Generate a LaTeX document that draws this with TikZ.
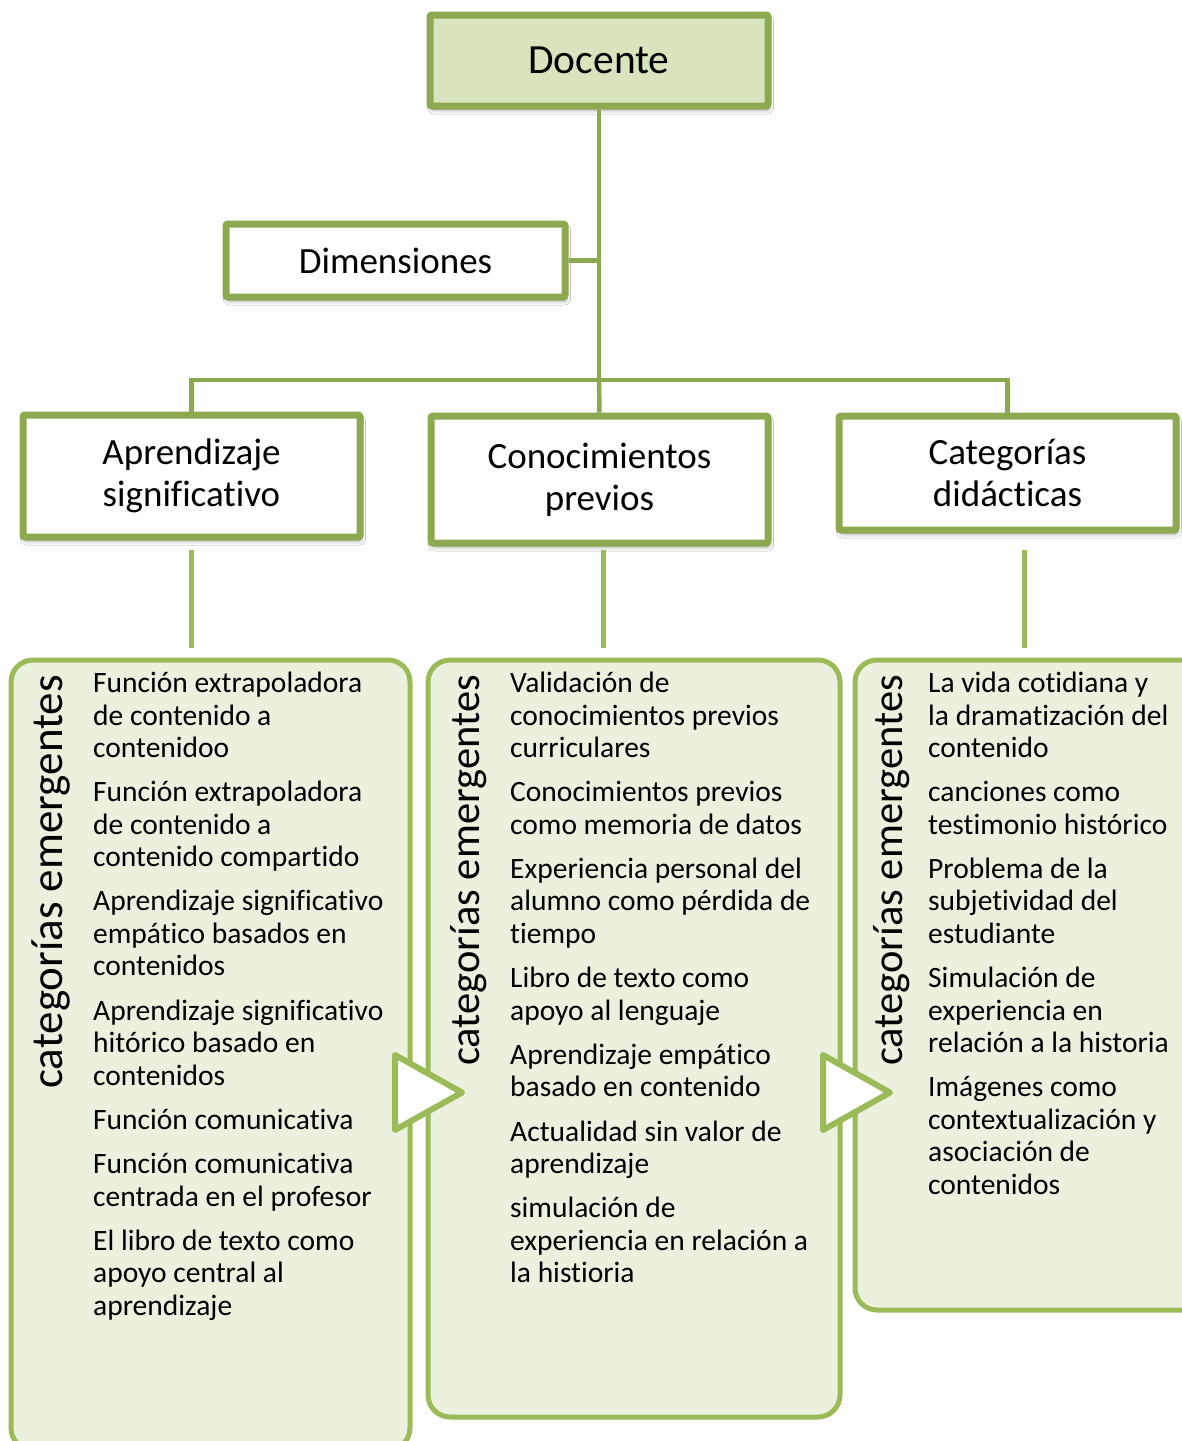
\documentclass[tikz,border=0pt]{standalone}
\usepackage{fontspec}
\setmainfont{Carlito}[Ligatures={NoCommon,NoContextual}]
\usetikzlibrary{shadows.blur}
\definecolor{boxgreen}{HTML}{8CA950}
\definecolor{docfill}{HTML}{D7E4BD}
\definecolor{panfill}{HTML}{EBF1DE}
\definecolor{pangreen}{HTML}{9BBB59}
\newcommand{\itemlines}[1]{\begin{tabular}[t]{@{}l@{}}#1\end{tabular}}
\begin{document}
\begin{tikzpicture}[x=1pt,y=-1pt,
  topbox/.style={draw=boxgreen, fill=white, line width=7pt, rounded corners=2pt, inner sep=0pt,
    align=center, blur shadow={shadow xshift=1.5pt, shadow yshift=-4pt, shadow opacity=35, shadow blur radius=4pt}},
  treeline/.style={draw=boxgreen, line width=4.5pt},
  lightline/.style={draw=pangreen, line width=5pt},
  panel/.style={draw=pangreen, fill=panfill, line width=5pt, rounded corners=22pt, inner sep=0pt},
  tri/.style={draw=pangreen, fill=white, line width=6pt, line join=round},
  itm/.style={anchor=base west, inner sep=0pt, font=\fontsize{29.5}{32.5}\selectfont},
  vlab/.style={rotate=90, anchor=base east, inner sep=0pt}]
\useasboundingbox (0,0) rectangle (1182,1441);
\clip (0,0) rectangle (1182,1441);
\fill[white] (0,0) rectangle (1182,1441);

% junction of the tree
\coordinate (jn) at (599,380);

% boxes
\node[topbox, fill=docfill, minimum width=338pt, minimum height=91pt, font=\fontsize{41.5}{48}\selectfont] (doc) at (599,60.5) {Docente};
\node[topbox, minimum width=339pt, minimum height=73pt, font=\fontsize{37}{42}\selectfont] (dim) at (395.5,260.5) {Dimensiones};
\node[topbox, minimum width=337pt, minimum height=122pt, font=\fontsize{37}{41.5}\selectfont] (apr) at (191.5,476) {Aprendizaje\\significativo};
\node[topbox, minimum width=337pt, minimum height=127pt, font=\fontsize{37}{41.5}\selectfont] (con) at (599.5,479.5) {Conocimientos\\previos};
\node[topbox, minimum width=337pt, minimum height=114pt, font=\fontsize{37}{41.5}\selectfont] (cat) at (1007.5,473) {Categorías\\didácticas};

\draw[treeline] (doc.south) -- (jn);
\draw[treeline] (dim.east) -- (dim.east -| jn);
\draw[treeline] (apr.north) |- (jn);
\draw[treeline] (con.north) -- (jn);
\draw[treeline] (cat.north) |- (jn);

% light connectors
\coordinate (a1) at (191,550); \coordinate (a2) at (191,648);
\coordinate (b1) at (603,550); \coordinate (b2) at (603,648);
\coordinate (c1) at (1024,550); \coordinate (c2) at (1024,648);
\draw[lightline] (a1) -- (a2);
\draw[lightline] (b1) -- (b2);
\draw[lightline] (c1) -- (c2);

% panels
\node[panel, minimum width=399pt, minimum height=790pt] (panL) at (210.5,1055) {};
\node[panel, minimum width=412pt, minimum height=757pt] (panM) at (634,1038.5) {};
\node[panel, minimum width=350pt, minimum height=650pt] (panR) at (1030,985) {};

% triangles
\draw[tri] (395,1055) -- (395,1130) -- (462,1092.5) -- cycle;
\draw[tri] (823,1055) -- (823,1130) -- (890,1092.5) -- cycle;

% vertical labels
\node[vlab, font=\fontsize{45}{50}\selectfont] (vl) at (62,675) {categorías emergentes};
\node[vlab, font=\fontsize{42.5}{48}\selectfont] (vm) at (479,675) {categorías emergentes};
\node[vlab, font=\fontsize{42.5}{48}\selectfont] (vr) at (902,675) {categorías emergentes};

% left column
\node[itm] (l1) at (93,692.5) {\itemlines{Función extrapoladora\\de contenido a\\contenidoo}};
\node[itm] (l2) at (93,801.7) {\itemlines{Función extrapoladora\\de contenido a\\contenido compartido}};
\node[itm] (l3) at (93,910.9) {\itemlines{Aprendizaje significativo\\empático basados en\\contenidos}};
\node[itm] (l4) at (93,1020.1) {\itemlines{Aprendizaje significativo\\hitórico basado en\\contenidos}};
\node[itm] (l5) at (93,1129.3) {\itemlines{Función comunicativa}};
\node[itm] (l6) at (93,1173.5) {\itemlines{Función comunicativa\\centrada en el profesor}};
\node[itm] (l7) at (93,1250.2) {\itemlines{El libro de texto como\\apoyo central al\\aprendizaje}};

% middle column
\node[itm] (m1) at (510,692.5) {\itemlines{Validación de\\conocimientos previos\\curriculares}};
\node[itm] (m2) at (510,801.7) {\itemlines{Conocimientos previos\\como memoria de datos}};
\node[itm] (m3) at (510,878.4) {\itemlines{Experiencia personal del\\alumno como pérdida de\\tiempo}};
\node[itm] (m4) at (510,987.6) {\itemlines{Libro de texto como\\apoyo al lenguaje}};
\node[itm] (m5) at (510,1064.3) {\itemlines{Aprendizaje empático\\basado en contenido}};
\node[itm] (m6) at (510,1141) {\itemlines{Actualidad sin valor de\\aprendizaje}};
\node[itm] (m7) at (510,1217.7) {\itemlines{simulación de\\experiencia en relación a\\la histioria}};

% right column
\node[itm] (r1) at (928,692.5) {\itemlines{La vida cotidiana y\\la dramatización del\\contenido}};
\node[itm] (r2) at (928,801.7) {\itemlines{canciones como\\testimonio histórico}};
\node[itm] (r3) at (928,878.4) {\itemlines{Problema de la\\subjetividad del\\estudiante}};
\node[itm] (r4) at (928,987.6) {\itemlines{Simulación de\\experiencia en\\relación a la historia}};
\node[itm] (r5) at (928,1096.8) {\itemlines{Imágenes como\\contextualización y\\asociación de\\contenidos}};
\end{tikzpicture}
\end{document}
